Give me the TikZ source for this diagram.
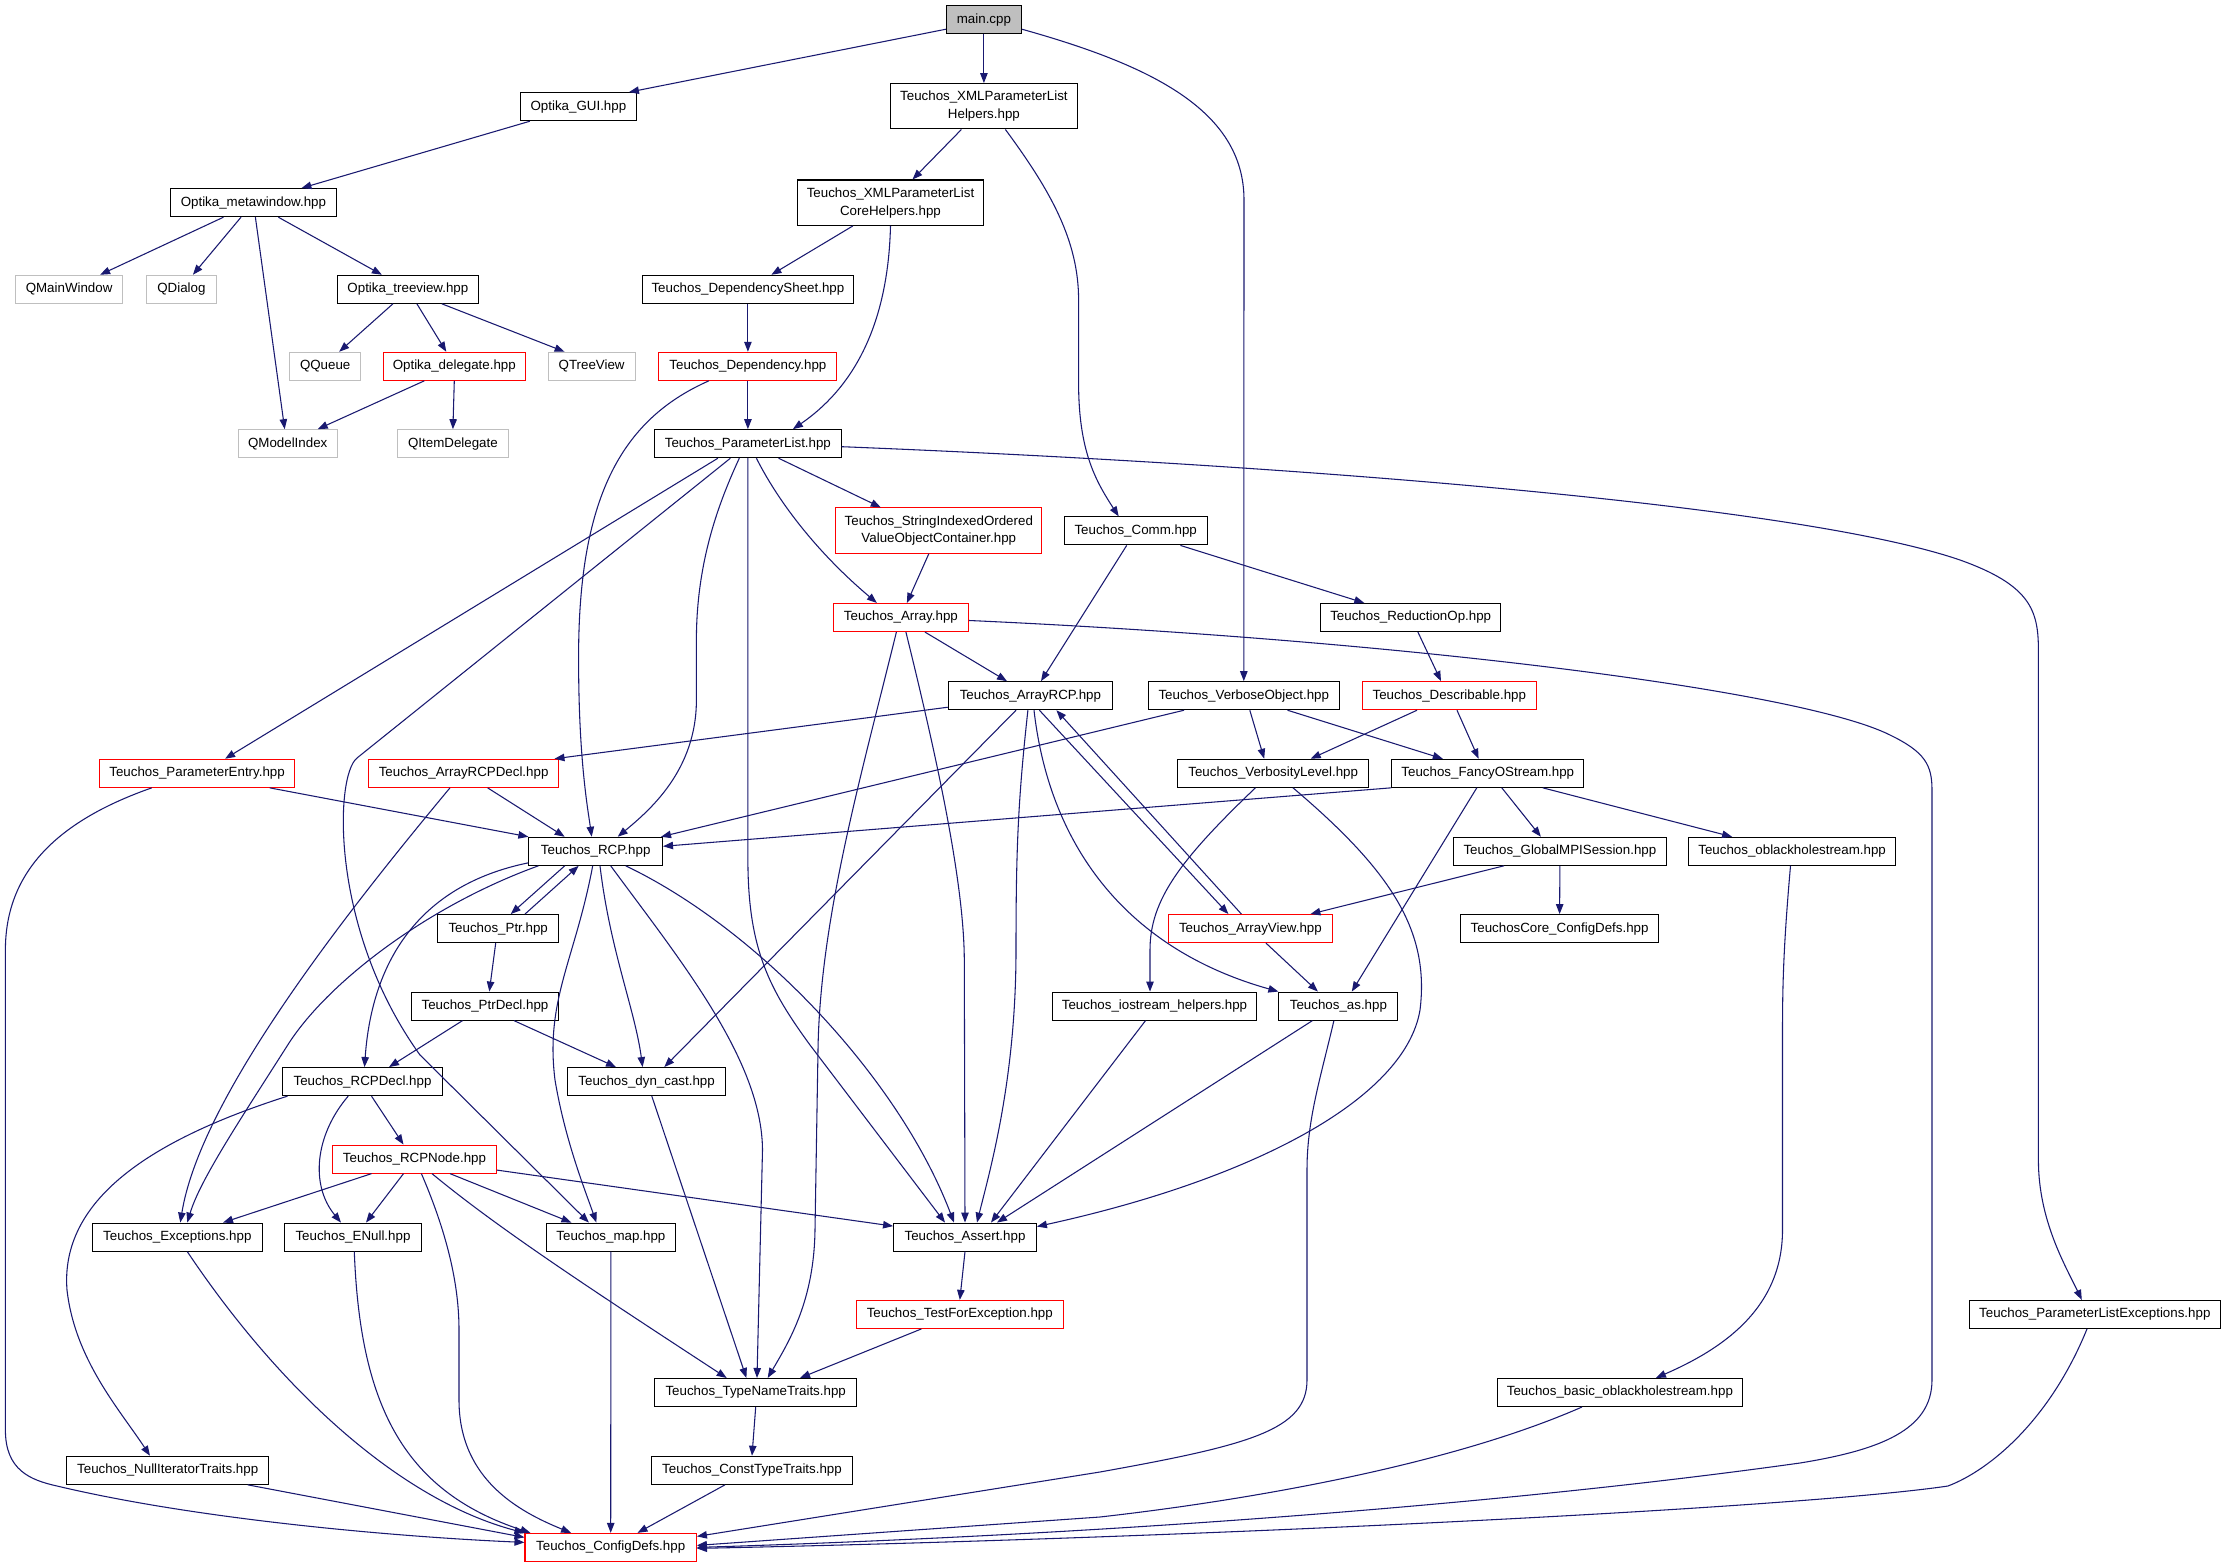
\documentclass[tikz,border=0pt]{standalone}
\usepackage{fontspec}
\setmainfont{Liberation Sans}
\usetikzlibrary{arrows.meta,calc}
\definecolor{edgec}{HTML}{191970}
\definecolor{qgray}{HTML}{BFBFBF}
\begin{document}
\begin{tikzpicture}[x=0.75pt,y=-0.75pt,
  box/.style={draw=black, fill=white, line width=0.8pt, minimum height=21pt,
    inner xsep=0pt, inner ysep=0pt, font=\fontsize{10}{13.3}\selectfont,
    align=center, minimum width=#1*0.75pt},
  rbox/.style={box=#1, draw=red},
  qbox/.style={box=#1, draw=qgray},
  tall/.style={minimum height=34pt},
  edg/.style={draw=edgec, line width=0.8pt, -{Triangle[length=7.5pt,width=5.6pt]}}]
\fill[white] (0,0) rectangle (2225,1565);
\useasboundingbox (0,0) rectangle (2225,1565);

% nodes
\node[box=75, fill=qgray] (main) at (983.9,19.7) {main.cpp};
\node[box=116] (gui) at (578.4,106.7) {Optika\_GUI.hpp};
\node[box=186.4, tall] (xmlh) at (983.9,106.3) {Teuchos\_XMLParameterList\\Helpers.hpp};
\node[box=166] (meta) at (253.4,202.7) {Optika\_metawindow.hpp};
\node[box=186.8, tall] (xmlc) at (890.5,202.7) {Teuchos\_XMLParameterList\\CoreHelpers.hpp};
\node[qbox=106.8] (qmain) at (69.1,289.3) {QMainWindow};
\node[qbox=70] (qdialog) at (181.4,289.3) {QDialog};
\node[box=141.5] (tree) at (407.9,289.3) {Optika\_treeview.hpp};
\node[box=210.7] (depsheet) at (747.9,289.3) {Teuchos\_DependencySheet.hpp};
\node[qbox=71.1] (qqueue) at (325.2,366.3) {QQueue};
\node[rbox=142.2] (deleg) at (454.3,366.3) {Optika\_delegate.hpp};
\node[qbox=87] (qtree) at (591.6,366.3) {QTreeView};
\node[rbox=177.9] (dep) at (747.9,366.3) {Teuchos\_Dependency.hpp};
\node[qbox=98.9] (qmodel) at (287.7,443.7) {QModelIndex};
\node[qbox=110.7] (qitem) at (452.9,443.7) {QItemDelegate};
\node[box=186.5] (plist) at (747.9,443.7) {Teuchos\_ParameterList.hpp};
\node[rbox=206.1, tall] (sioc) at (938.8,530.6) {Teuchos\_StringIndexedOrdered\\ValueObjectContainer.hpp};
\node[box=142.8] (comm) at (1135.7,530.9) {Teuchos\_Comm.hpp};
\node[rbox=135.4] (array) at (900.9,617.5) {Teuchos\_Array.hpp};
\node[box=180] (redop) at (1410.7,617.5) {Teuchos\_ReductionOp.hpp};
\node[box=164.3] (arcp) at (1030.4,695.7) {Teuchos\_ArrayRCP.hpp};
\node[box=191.1] (verbobj) at (1243.8,695.7) {Teuchos\_VerboseObject.hpp};
\node[rbox=173.6] (descr) at (1449.3,695.7) {Teuchos\_Describable.hpp};
\node[rbox=195.7] (pentry) at (197.1,773.3) {Teuchos\_ParameterEntry.hpp};
\node[rbox=190.7] (arcpdecl) at (463.6,773.3) {Teuchos\_ArrayRCPDecl.hpp};
\node[box=190.7] (verblev) at (1273.2,773.3) {Teuchos\_VerbosityLevel.hpp};
\node[box=192.1] (fancy) at (1487.8,773.3) {Teuchos\_FancyOStream.hpp};
\node[box=133.6] (rcp) at (595.7,851.3) {Teuchos\_RCP.hpp};
\node[box=212.5] (gmpi) at (1559.9,851.3) {Teuchos\_GlobalMPISession.hpp};
\node[box=207.2] (obh) at (1792.1,851.3) {Teuchos\_oblackholestream.hpp};
\node[box=121.4] (ptr) at (498.2,928.6) {Teuchos\_Ptr.hpp};
\node[rbox=164.3] (aview) at (1250.4,928.6) {Teuchos\_ArrayView.hpp};
\node[box=198.5] (tccd) at (1559.6,928.6) {TeuchosCore\_ConfigDefs.hpp};
\node[box=147.8] (ptrdecl) at (485,1006.1) {Teuchos\_PtrDecl.hpp};
\node[box=203.2] (ioh) at (1154.5,1006.1) {Teuchos\_iostream\_helpers.hpp};
\node[box=119] (as) at (1338.4,1006.1) {Teuchos\_as.hpp};
\node[box=160.8] (rcpdecl) at (362.5,1081.6) {Teuchos\_RCPDecl.hpp};
\node[box=157.5] (dyn) at (646.6,1081.6) {Teuchos\_dyn\_cast.hpp};
\node[rbox=163.9] (rcpnode) at (414.5,1159.1) {Teuchos\_RCPNode.hpp};
\node[box=169.6] (exc) at (177.3,1237.1) {Teuchos\_Exceptions.hpp};
\node[box=136.8] (enull) at (353,1237.1) {Teuchos\_ENull.hpp};
\node[box=129] (map) at (610.9,1237.1) {Teuchos\_map.hpp};
\node[box=142.8] (assert) at (965,1237.1) {Teuchos\_Assert.hpp};
\node[rbox=206.8] (tfe) at (959.8,1314.4) {Teuchos\_TestForException.hpp};
\node[box=251.2] (plexc) at (2094.8,1314.4) {Teuchos\_ParameterListExceptions.hpp};
\node[box=202.2] (tnt) at (755.7,1392.5) {Teuchos\_TypeNameTraits.hpp};
\node[box=244.7] (bobh) at (1619.9,1392.5) {Teuchos\_basic\_oblackholestream.hpp};
\node[box=201.8] (nit) at (167.7,1470.3) {Teuchos\_NullIteratorTraits.hpp};
\node[box=201.8] (ctt) at (752,1470.3) {Teuchos\_ConstTypeTraits.hpp};
\node[rbox=171.4] (cdefs) at (610.7,1547.4) {Teuchos\_ConfigDefs.hpp};

% edges: top part
\draw[edg] ($(main.south west)+(0,-5)$) -- ($(gui.north east)+(-8,0)$);
\draw[edg] (main.south) -- (xmlh.north);
\draw[edg] ($(main.south east)+(0,-5)$) .. controls (1150,65) and (1244,110) .. (1244,200) -- (verbobj.north);
\draw[edg] ($(gui.south west)+(10,0)$) -- ($(meta.north)+(48,0)$);
\draw[edg] ($(meta.south)+(-30,0)$) -- ($(qmain.north)+(31,0)$);
\draw[edg] ($(meta.south)+(-12.4,0)$) -- ($(qdialog.north)+(11.5,0)$);
\draw[edg] ($(meta.south)+(2,0)$) -- ($(qmodel.north)+(-3,0)$);
\draw[edg] ($(meta.south)+(25,0)$) -- ($(tree.north)+(-26,0)$);
\draw[edg] ($(tree.south)+(-15,0)$) -- ($(qqueue.north)+(14,0)$);
\draw[edg] ($(tree.south)+(9,0)$) -- ($(deleg.north)+(-8,0)$);
\draw[edg] ($(tree.south)+(34,0)$) -- ($(qtree.north)+(-27,0)$);
\draw[edg] ($(deleg.south)+(-30,0)$) -- ($(qmodel.north)+(30,0)$);
\draw[edg] (deleg.south) -- (qitem.north);

\draw[edg] ($(xmlh.south)+(-22.5,0)$) -- ($(xmlc.north)+(22,0)$);
\draw[edg] ($(xmlh.south)+(21.5,0)$) .. controls (1050,190) and (1078.6,240) .. (1078.6,300) -- (1078.6,383) .. controls (1078.6,450) and (1095,480) .. ($(comm.north)+(-17,0)$);
\draw[edg] ($(xmlc.south)+(-37.6,0)$) -- ($(depsheet.north)+(23.5,0)$);
\draw[edg] (xmlc.south) .. controls (888,330) and (850,390) .. ($(plist.north)+(45,0)$);
\draw[edg] (depsheet.south) -- (dep.north);
\draw[edg] (dep.south) -- (plist.north);
\draw[edg] ($(dep.south)+(-39,0)$) .. controls (620,420) and (578,500) .. (578.6,660) .. controls (578.6,760) and (588,810) .. ($(rcp.north)+(-4,0)$);

% ParameterList
\draw[edg] ($(plist.south)+(-30,0)$) -- ($(pentry.north)+(28,0)$);
\draw[edg] ($(plist.south)+(-17.5,0)$) -- (357,758) .. controls (334.6,776) and (330,930) .. (420,1055) -- ($(map.north)+(-22,0)$);
\draw[edg] ($(plist.south)+(-8.6,0)$) .. controls (720,500) and (696.4,560) .. (696.4,640) -- (696.4,700) .. controls (696.4,770) and (650,810) .. ($(rcp.north)+(22,0)$);
\draw[edg] (plist.south) -- (747.9,860) .. controls (748,950) and (770,990) .. (810,1045) -- ($(assert.north)+(-20,0)$);
\draw[edg] ($(plist.south)+(8.5,0)$) .. controls (780,505) and (820,555) .. ($(array.north)+(-24,0)$);
\draw[edg] ($(plist.south)+(30.7,0)$) -- ($(sioc.north)+(-58,0)$);
\draw[edg] ($(plist.east)+(0,3)$) .. controls (1300,465) and (1800,505) .. (1960,560) .. controls (2030,585) and (2038.4,610) .. (2038.4,650) -- (2038.4,1160) .. controls (2038.4,1220) and (2065,1265) .. ($(plexc.north)+(-13,0)$);

\draw[edg] ($(sioc.south)+(-10,0)$) -- ($(array.north)+(6,0)$);
\draw[edg] ($(comm.south)+(-9,0)$) -- ($(arcp.north)+(10.6,0)$);
\draw[edg] ($(comm.south)+(44.7,0)$) -- ($(redop.north)+(-46.4,0)$);

% Array
\draw[edg] ($(array.south)+(24,0)$) -- ($(arcp.north)+(-23.4,0)$);
\draw[edg] ($(array.east)+(0,3)$) .. controls (1400,640) and (1800,690) .. (1890,735) .. controls (1925,752) and (1932,765) .. (1932,790) -- (1932,1380) .. controls (1932,1430) and (1880,1450) .. (1800,1463) .. controls (1500,1505) and (1100,1535) .. (cdefs.east);
\draw[edg] ($(array.south)+(5,0)$) .. controls (935,750) and (964,880) .. (964.3,960) -- (assert.north);
\draw[edg] ($(array.south)+(-4.5,0)$) .. controls (860,780) and (820,920) .. (818,1050) -- (815,1230) .. controls (814,1300) and (790,1340) .. ($(tnt.north)+(12,0)$);

% ArrayRCP
\draw[edg] ($(arcp.south west)+(0,-3)$) -- ($(arcpdecl.north east)+(-5,0)$);
\draw[edg] ($(arcp.south)+(-14.4,0)$) -- ($(dyn.north)+(17.7,0)$);
\draw[edg] ($(arcp.south)+(-2.5,0)$) .. controls (1018,800) and (1016,850) .. (1016,950) .. controls (1016,1080) and (990,1170) .. ($(assert.north)+(12,0)$);
\draw[edg] ($(arcp.south)+(3.6,0)$) .. controls (1050,850) and (1130,950) .. (as.north west);
\draw[edg] ($(arcp.south)+(9,0)$) -- ($(aview.north)+(-22,0)$);
\draw[edg] ($(aview.north)+(-9,0)$) -- ($(arcp.south)+(26,0)$);
\draw[edg] ($(aview.south)+(15.6,0)$) -- ($(as.north)+(-20.5,0)$);

% VerboseObject, Describable
\draw[edg] ($(verbobj.south)+(-59.8,0)$) -- ($(rcp.north east)+(-2,0)$);
\draw[edg] ($(verbobj.south)+(6,0)$) -- ($(verblev.north)+(-9,0)$);
\draw[edg] ($(verbobj.south)+(43.7,0)$) -- ($(fancy.north)+(-45,0)$);
\draw[edg] ($(descr.south)+(-32.3,0)$) -- ($(verblev.north)+(37.5,0)$);
\draw[edg] ($(descr.south)+(7.7,0)$) -- ($(fancy.north)+(-9.2,0)$);
\draw[edg] ($(redop.south)+(7.2,0)$) -- ($(descr.north)+(-8.3,0)$);

% ParameterEntry, ArrayRCPDecl
\draw[edg] ($(pentry.south)+(72.5,0)$) -- (rcp.north west);
\draw[edg] ($(pentry.south)+(-45.3,0)$) .. controls (60,820) and (5.4,870) .. (5.4,950) -- (5.4,1430) .. controls (5.4,1470) and (30,1480) .. (57,1486) .. controls (200,1520) and (400,1537) .. ($(cdefs.west)+(0,-5)$);
\draw[edg] ($(arcpdecl.south)+(24,0)$) -- ($(rcp.north)+(-31,0)$);
\draw[edg] ($(arcpdecl.south)+(-13.6,0)$) .. controls (340,920) and (200,1100) .. ($(exc.north)+(3,0)$);

% RCP
\draw[edg] ($(rcp.south)+(-31,0)$) -- ($(ptr.north)+(12.5,0)$);
\draw[edg] ($(ptr.north)+(26.8,0)$) -- ($(rcp.south)+(-17,0)$);
\draw[edg] ($(rcp.south west)+(0,-3)$) .. controls (420,885) and (372,960) .. ($(rcpdecl.north)+(2,0)$);
\draw[edg] ($(rcp.south west)+(10,0)$) .. controls (430,905) and (330,980) .. (289,1043) .. controls (240,1120) and (200,1180) .. ($(exc.north)+(10,0)$);
\draw[edg] ($(rcp.south)+(4.3,0)$) .. controls (610,950) and (635,1010) .. ($(dyn.north)+(-4,0)$);
\draw[edg] ($(rcp.south)+(-3,0)$) .. controls (575,960) and (545,1000) .. (555,1080) .. controls (565,1140) and (585,1190) .. ($(map.north)+(-14.5,0)$);
\draw[edg] ($(rcp.south)+(15,0)$) .. controls (680,960) and (762,1060) .. (762.5,1150) -- ($(tnt.north)+(1.3,0)$);
\draw[edg] ($(rcp.south)+(30,0)$) .. controls (760,930) and (900,1080) .. ($(assert.north)+(-11,0)$);

% Ptr, PtrDecl
\draw[edg] ($(ptr.south)+(-2.5,0)$) -- ($(ptrdecl.north)+(4.3,0)$);
\draw[edg] ($(ptrdecl.south)+(-22.5,0)$) -- ($(rcpdecl.north)+(26.5,0)$);
\draw[edg] ($(ptrdecl.south)+(29,0)$) -- ($(dyn.north)+(-30.6,0)$);

% RCPDecl
\draw[edg] ($(rcpdecl.south)+(9,0)$) -- ($(rcpnode.north)+(-11,0)$);
\draw[edg] ($(rcpdecl.south)+(-14.3,0)$) .. controls (315,1135) and (310,1185) .. ($(enull.north)+(-12,0)$);
\draw[edg] ($(rcpdecl.south)+(-75,0)$) .. controls (150,1140) and (60,1200) .. (67,1290) .. controls (75,1360) and (120,1410) .. ($(nit.north)+(-17.7,0)$);

% RCPNode
\draw[edg] ($(rcpnode.south)+(-43,0)$) -- ($(exc.north)+(45.7,0)$);
\draw[edg] ($(rcpnode.south)+(-11,0)$) -- ($(enull.north)+(13,0)$);
\draw[edg] ($(rcpnode.south)+(35.5,0)$) -- ($(map.north)+(-39.5,0)$);
\draw[edg] ($(rcpnode.south)+(17.5,0)$) .. controls (500,1230) and (600,1295) .. ($(tnt.north)+(-29,0)$);
\draw[edg] ($(rcpnode.east)+(0,11)$) -- ($(assert.west)+(0,-11)$);
\draw[edg] ($(rcpnode.south)+(6.9,0)$) .. controls (450,1240) and (459,1290) .. (459,1330) -- (459,1400) .. controls (459,1480) and (520,1512) .. ($(cdefs.north)+(-39.6,0)$);

% into ConfigDefs
\draw[edg] ($(exc.south)+(10,0)$) .. controls (280,1390) and (400,1500) .. (cdefs.north west);
\draw[edg] ($(enull.south)+(1.3,0)$) .. controls (360,1400) and (400,1490) .. ($(cdefs.north west)+(6,0)$);
\draw[edg] (map.south) -- (cdefs.north);
\draw[edg] ($(nit.south)+(80,0)$) -- ($(cdefs.west)+(0,-10)$);
\draw[edg] ($(ctt.south)+(-27,0)$) -- ($(cdefs.north)+(26.8,0)$);

% Assert, TypeNameTraits
\draw[edg] (assert.south) -- (tfe.north);
\draw[edg] ($(tfe.south)+(-38.4,0)$) -- ($(tnt.north)+(44.3,0)$);
\draw[edg] ($(dyn.south)+(5.2,0)$) -- ($(tnt.north)+(-9.3,0)$);
\draw[edg] (tnt.south) -- (ctt.north);

% iostream_helpers, as
\draw[edg] ($(ioh.south)+(-9,0)$) -- ($(assert.north)+(26,0)$);
\draw[edg] ($(as.south)+(-26,0)$) -- ($(assert.north)+(32,0)$);
\draw[edg] ($(as.south)+(-4.5,0)$) .. controls (1320,1080) and (1307,1120) .. (1307,1170) -- (1307,1380) .. controls (1307,1430) and (1250,1445) .. (1100,1472) -- ($(cdefs.east)+(0,-11)$);

% VerbosityLevel
\draw[edg] ($(verblev.south)+(-17.8,0)$) .. controls (1180,860) and (1150,900) .. (1150,950) -- ($(ioh.north)+(-4.5,0)$);
\draw[edg] ($(verblev.south)+(19.8,0)$) .. controls (1390,870) and (1430,930) .. (1420,1010) .. controls (1405,1100) and (1250,1180) .. ($(assert.north east)+(0,4)$);

% FancyOStream
\draw[edg] (fancy.south west) -- ($(rcp.east)+(0,-5)$);
\draw[edg] ($(fancy.south)+(-11,0)$) -- ($(as.north)+(13.4,0)$);
\draw[edg] ($(fancy.south)+(14,0)$) -- ($(gmpi.north)+(-19,0)$);
\draw[edg] ($(fancy.south)+(55,0)$) -- ($(obh.north)+(-60,0)$);
\draw[edg] ($(gmpi.south)+(-56,0)$) -- ($(aview.north)+(60,0)$);
\draw[edg] (gmpi.south) -- (tccd.north);

% blackhole streams, ParameterListExceptions
\draw[edg] ($(obh.south)+(-1.6,0)$) .. controls (1784,940) and (1782.5,980) .. (1782.5,1030) -- (1782.5,1230) .. controls (1782.5,1310) and (1720,1350) .. ($(bobh.north)+(36,0)$);
\draw[edg] ($(bobh.south)+(-38,0)$) .. controls (1450,1465) and (1250,1500) .. (1100,1517) -- ($(cdefs.east)+(0,-2)$);
\draw[edg] ($(plexc.south)+(-7.8,0)$) .. controls (2050,1420) and (1990,1470) .. (1948,1486) .. controls (1800,1508) and (1200,1538) .. ($(cdefs.east)+(0,1)$);
\end{tikzpicture}
\end{document}
